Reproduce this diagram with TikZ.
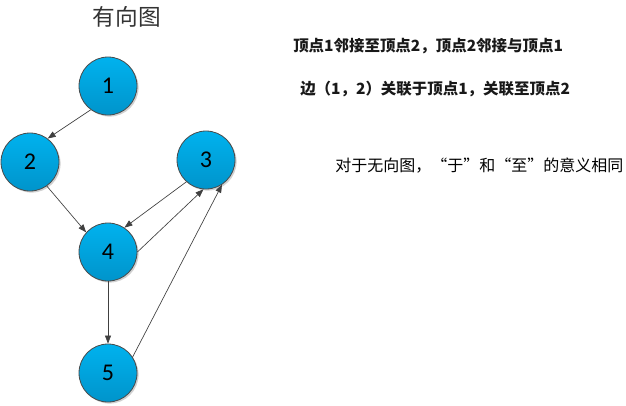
\documentclass[tikz,border=0pt]{standalone}
\usepackage{fontspec}
\setmainfont{Carlito}
\newfontfamily\cjk{Noto Sans CJK SC}
\usepackage{xcolor}
\definecolor{vtxtop}{HTML}{00B2EE}
\definecolor{vtxbot}{HTML}{0094CB}
\definecolor{vtxrim}{HTML}{4A4A4A}
\definecolor{edgegray}{HTML}{404040}
\usetikzlibrary{arrows.meta,positioning,shadows}

\begin{document}
\begin{tikzpicture}[x=0.75pt,y=-0.75pt,
  vtx/.style={circle,minimum size=43.5pt,inner sep=0pt,draw=vtxrim,line width=0.6pt,
    top color=vtxtop,bottom color=vtxbot,font=\fontsize{18}{20}\selectfont,
    drop shadow={shadow xshift=1.2pt,shadow yshift=-1.2pt,opacity=0.18,fill=black}},
  arc/.style={edgegray,line width=0.5pt,-{Triangle[length=6pt,width=4.5pt]}},
  note/.style={anchor=west,inner sep=0pt,font=\cjk\fontsize{12}{14}\selectfont},
  boldnote/.style={note,font=\cjk\bfseries\fontsize{11.6}{14}\selectfont,text=black!90}]
\useasboundingbox (0,0) rectangle (626,405);
% title
\node[font=\cjk\fontsize{17}{20}\selectfont,text=black!80] (title) at (127,17) {有向图};
% vertices
\foreach \name/\px/\py in {1/108/86, 2/30/162, 3/206/160, 4/108/252, 5/108/373}
  \node[vtx] (v\name) at (\px,\py) {\name};
% arcs
\draw[arc] (v1.234) -- (v2.53);
\draw[arc] (v2.305) -- (v4.138);
\draw[arc] (v3.228) -- (v4.56);
\draw[arc] (v4.0) -- (v3.265);
\draw[arc] (v4.south) -- (v5.north);
\draw[arc] (v5.33) -- (v3.303);
% notes
\node[boldnote] (adj) at (293,46) {顶点1邻接至顶点2，顶点2邻接与顶点1};
\node[boldnote] (inc) at (300,89) {边（1，2）关联于顶点1，关联至顶点2};
\node[note] (undir) at (335,166) {对于无向图，“于”和“至”的意义相同};
\end{tikzpicture}
\end{document}
